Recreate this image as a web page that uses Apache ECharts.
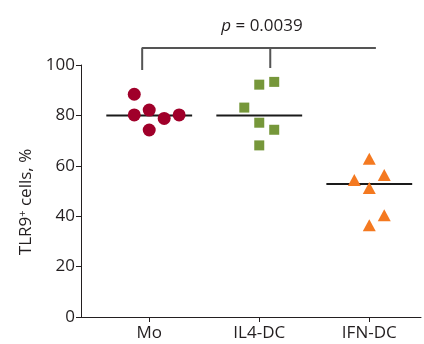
<!DOCTYPE html>
<html>
<head>
<meta charset="utf-8">
<script src="https://cdn.jsdelivr.net/npm/echarts@6/dist/echarts.min.js"></script>
<style>html,body{margin:0;padding:0;background:#fff;}#c{width:424px;height:344px;}</style>
</head>
<body>
<div id="c"></div>
<script>
var categories = ['Mo', 'IL4-DC', 'IFN-DC'];
var moValues = [88.4, 80.2, 82.1, 74.2, 78.8, 80.2];
var moJitter = [-1, -1, 0, 0, 1, 2];
var il4Values = [92.2, 93.3, 83.1, 77.1, 74.3, 68.1];
var il4Jitter = [0, 1, -1, 0, 1, 0];
var ifnValues = [62.8, 56.3, 54.4, 51.2, 40.4, 36.4];
var ifnJitter = [0, 1, -1, 0, 1, 0];
var medians = [80.0, 80.0, 52.8];
var yTicks = [0, 20, 40, 60, 80, 100];
var pLabel = '0.0039';
// significance bracket (x in category units, y in %)
var bracket = [[0.936, 98.0], [0.936, 106.7], [2.10, 106.7], [2.10, 98.8], [2.10, 106.7], [3.06, 106.7]];

var JSTEP = 0.136;
var HALF = 0.39;
var FONT = 'Open Sans';
var TXT = '#231f20';

function pts(vals, jit, idx) {
  return vals.map(function (v, i) { return [idx + 1 + jit[i] * JSTEP, v]; });
}

var series = [];
medians.forEach(function (m, i) {
  series.push({
    type: 'line', data: [[i + 1 - HALF, m], [i + 1 + HALF, m]],
    symbol: 'none', lineStyle: { color: '#1a1a1a', width: 2 }, z: 2, silent: true
  });
});
series.push({
  type: 'line', data: bracket, symbol: 'none', clip: false,
  lineStyle: { color: '#555', width: 2 }, z: 2, silent: true
});
series.push({ type: 'scatter', data: pts(moValues, moJitter, 0), symbol: 'circle', symbolSize: 13,
  itemStyle: { color: '#a0002a', opacity: 1 }, z: 5 });
series.push({ type: 'scatter', data: pts(il4Values, il4Jitter, 1), symbol: 'rect', symbolSize: 10,
  itemStyle: { color: '#76973a', opacity: 1 }, z: 5 });
series.push({ type: 'scatter', data: pts(ifnValues, ifnJitter, 2), symbol: 'triangle', symbolSize: [13, 12],
  itemStyle: { color: '#f47920', opacity: 1 }, z: 5 });

var chart = echarts.init(document.getElementById('c'), null, { renderer: 'canvas' });
chart.setOption({
  animation: false,
  backgroundColor: '#fff',
  grid: { left: 81, right: 3, top: 65, bottom: 27, containLabel: false },
  xAxis: {
    type: 'value', min: 0.38, max: 3.47,
    axisLine: { show: true, lineStyle: { color: TXT, width: 1 } },
    axisTick: { show: true, length: 5, customValues: [1, 2, 3], lineStyle: { color: TXT } },
    axisLabel: { customValues: [1, 2, 3], formatter: function (v) { return categories[Math.round(v) - 1]; },
      fontFamily: FONT, fontSize: 17, color: TXT, margin: 8 },
    splitLine: { show: false }
  },
  yAxis: {
    type: 'value', min: 0, max: 100, interval: 20,
    axisLine: { show: true, lineStyle: { color: TXT, width: 1 } },
    axisTick: { show: true, length: 5, lineStyle: { color: TXT } },
    axisLabel: { fontFamily: FONT, fontSize: 17, color: TXT, margin: 6 },
    splitLine: { show: false },
    name: '{a|TLR9}{s|+}{a| cells, %}',
    nameLocation: 'middle', nameGap: 45,
    nameTextStyle: {
      padding: [0, 22, 0, 0],
      rich: {
        a: { fontFamily: FONT, fontSize: 17, color: TXT },
        s: { fontFamily: FONT, fontSize: 11, color: TXT, verticalAlign: 'top', padding: [0, 0, 8, 0] }
      }
    }
  },
  graphic: [{
    type: 'text', x: 262, y: 26,
    style: {
      text: '{i|p} = ' + pLabel,
      rich: {
        i: { fontFamily: FONT, fontStyle: 'italic', fontSize: 17, fill: TXT }
      },
      font: '17px "Open Sans"', fill: TXT, align: 'center', verticalAlign: 'middle'
    }
  }],
  series: series
});
</script>
</body>
</html>
